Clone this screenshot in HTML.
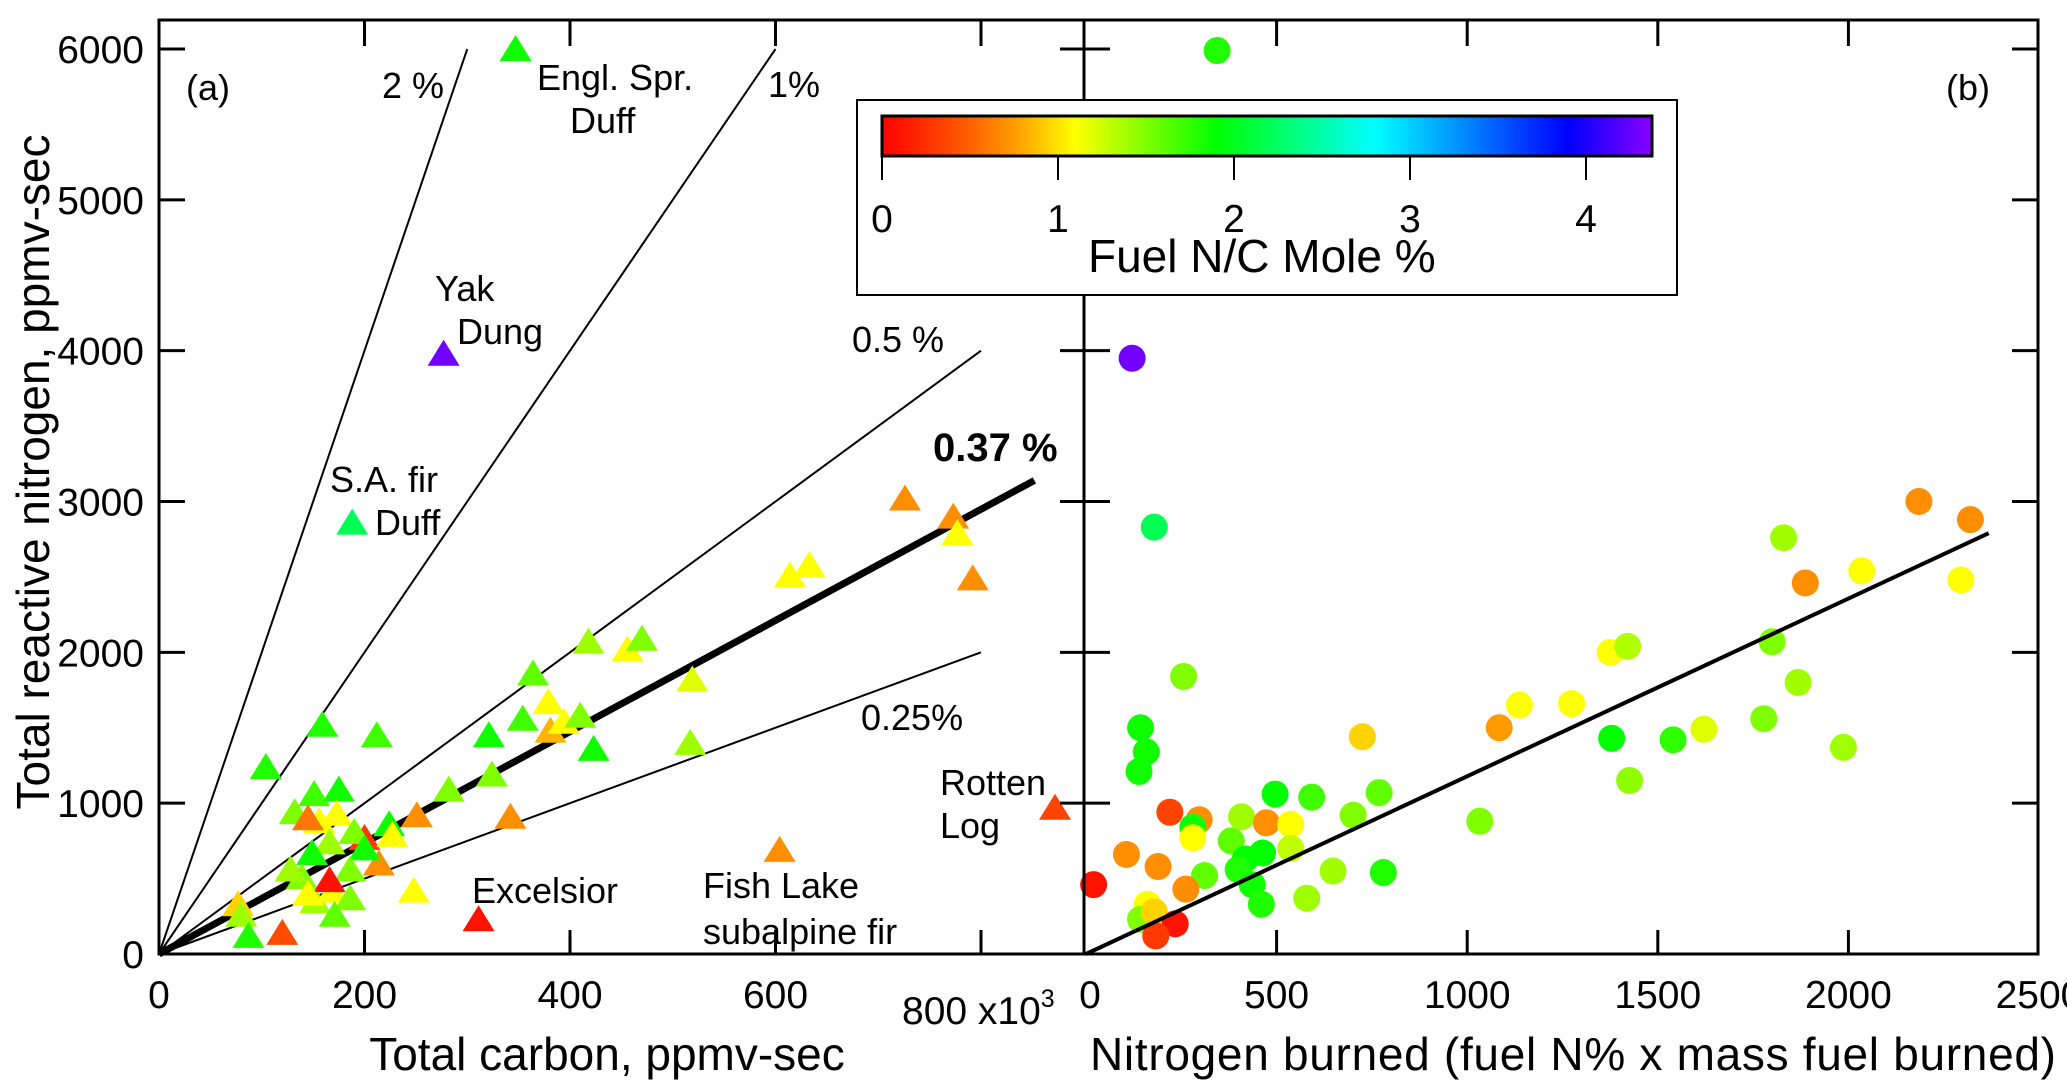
<!DOCTYPE html>
<html><head><meta charset="utf-8"><style>
html,body{margin:0;padding:0;background:#fff;}
svg{display:block;font-family:"Liberation Sans",sans-serif;}
</style></head><body>
<svg id="c" width="2067" height="1086" viewBox="0 0 2067 1086" xmlns="http://www.w3.org/2000/svg">
<defs>
<linearGradient id="cb" x1="0" x2="1" y1="0" y2="0">
<stop offset="0" stop-color="#ff0000"/>
<stop offset="0.114" stop-color="#ff6000"/>
<stop offset="0.18" stop-color="#ffa500"/>
<stop offset="0.25" stop-color="#ffff00"/>
<stop offset="0.434" stop-color="#00ff00"/>
<stop offset="0.64" stop-color="#00ffff"/>
<stop offset="0.89" stop-color="#0000ff"/>
<stop offset="1" stop-color="#8800ff"/>
</linearGradient>
</defs>
</svg>
<script>
// Panel (a): total carbon (x10^3 ppmv-sec), total reactive N (ppmv-sec), fuel N/C mole %
const aCarbon=[347,277,188,726,773,777,792,614,633,418,456,470,519,517,364,354,321,379,381,394,410,423,324,282,342,251,212,159,104,132,151,175,156,173,145,200,224,190,227,214,200,186,166,149,139,128,152,169,166,186,171,145,77,80,87,120,248,311,604,872];
const aNitrogen=[6000,3980,2860,3020,2900,2790,2490,2510,2580,2070,2020,2090,1820,1400,1860,1560,1450,1670,1480,1540,1580,1360,1190,1090,910,920,1450,1520,1240,940,1060,1090,880,930,900,770,860,810,790,600,700,560,740,670,510,560,350,420,490,370,260,400,330,260,120,140,420,230,690,970];
const aNC=[1.85,4.3,2.2,0.7,0.7,1.1,0.7,1.1,1.1,1.4,1.1,1.5,1.2,1.4,1.6,1.7,1.85,1.1,0.85,1.1,1.5,1.85,1.5,1.5,0.7,0.7,1.7,1.8,1.8,1.5,1.7,1.85,1.1,1.1,0.6,0.3,1.85,1.5,1.1,0.7,1.85,1.5,1.4,1.85,1.5,1.4,1.4,1.1,0.1,1.5,1.6,1.1,0.95,1.4,1.8,0.4,1.1,0.1,0.7,0.35];
// Panel (b): nitrogen burned, total reactive N, fuel N/C mole %
const bBurned=[344,121,179,256,143,158,139,220,297,280,280,106,189,20,311,262,161,143,179,234,183,381,408,473,537,496,592,463,418,399,436,460,537,579,648,701,725,769,780,1033,1084,1137,1274,1379,1375,1421,1426,1540,1621,1778,1800,1830,1868,1887,1987,2035,2185,2295,2320];
const bNitrogen=[5990,3950,2830,1840,1500,1340,1210,940,890,840,770,660,580,460,520,430,330,230,280,200,120,750,910,870,860,1060,1040,670,630,560,460,330,700,370,550,920,1440,1070,540,880,1500,1650,1660,1430,2000,2040,1150,1420,1490,1560,2070,2760,1800,2460,1370,2540,3000,2480,2880];
const bNC=[1.8,4.3,2.2,1.5,1.85,1.85,1.85,0.35,0.7,1.85,1.1,0.7,0.7,0.1,1.6,0.7,1.1,1.5,0.95,0.1,0.3,1.6,1.4,0.7,1.1,1.9,1.7,1.9,1.9,1.8,1.85,1.8,1.3,1.4,1.4,1.5,0.95,1.6,1.8,1.5,0.75,1.1,1.1,1.9,1.1,1.35,1.45,1.75,1.2,1.5,1.5,1.4,1.4,0.7,1.4,1.1,0.7,1.1,0.7];
const aRefLines=[[2,300,6000],[1,600,6000],[0.5,800,4000],[0.25,800,2000]];
const fitA=[852,3140];
const fitB=[2368,2790];
const yTicks=[0,1000,2000,3000,4000,5000,6000];
const xTicksA=[0,200,400,600];
const xTicksB=[0,500,1000,1500,2000,2500];
const cbTicks=[0,1,2,3,4];

const svg=document.getElementById('c');
const NS='http://www.w3.org/2000/svg';
const xa=v=>159+v*1.0275, ya=v=>954-v*0.15083;
const xb=v=>1086+v*0.3812, yb=ya;
const cbx=v=>882+v*176;
function mk(tag,attrs,text){const e=document.createElementNS(NS,tag);for(const k in attrs)e.setAttribute(k,attrs[k]);if(text!==undefined)e.textContent=text;svg.appendChild(e);return e;}
const stops=[[0,[255,0,0]],[0.5,[255,96,0]],[0.8,[255,165,0]],[1.1,[255,255,0]],[1.9,[0,255,0]],[2.8,[0,255,255]],[3.9,[0,0,255]],[4.38,[136,0,255]]];
function col(v){for(let i=0;i<stops.length-1;i++){const[a,ca]=stops[i],[b,cb]=stops[i+1];if(v<=b){const t=Math.max(0,(v-a)/(b-a));return 'rgb('+ca.map((c,j)=>Math.round(c+(cb[j]-c)*t)).join(',')+')';}}return 'rgb(136,0,255)';}

aRefLines.forEach(r=>{const l=mk('line',{x1:xa(0),y1:ya(0),x2:xa(r[1]),y2:ya(r[2]),stroke:'#000','stroke-width':2});

});
let fa=mk('line',{x1:xa(0),y1:ya(0),x2:xa(fitA[0]),y2:ya(fitA[1]),stroke:'#000','stroke-width':7});



aCarbon.forEach((c,i)=>{const x=xa(c),y=ya(aNitrogen[i]);
const p=mk('polygon',{points:`${x},${y-14} ${x-16},${y+12} ${x+16},${y+12}`,fill:col(aNC[i])});

});

bBurned.forEach((v,i)=>{const c=mk('circle',{cx:xb(v),cy:yb(bNitrogen[i]),r:13.5,fill:col(bNC[i])});

});
let fb=mk('line',{x1:xb(0),y1:yb(0),x2:xb(fitB[0]),y2:yb(fitB[1]),stroke:'#000','stroke-width':4});



let fr=mk('rect',{x:159,y:20,width:1879,height:934,fill:'none',stroke:'#000','stroke-width':3});


let dv=mk('line',{x1:1084,y1:20,x2:1084,y2:954,stroke:'#000','stroke-width':3});



yTicks.forEach(v=>{const y=ya(v);
mk('line',{x1:159,y1:y,x2:185,y2:y,stroke:'#000','stroke-width':3});
mk('line',{x1:1060,y1:y,x2:1110,y2:y,stroke:'#000','stroke-width':3});
mk('line',{x1:2012,y1:y,x2:2038,y2:y,stroke:'#000','stroke-width':3});
const t=mk('text',{x:144,y:y+14,'text-anchor':'end','font-size':39},String(v));

});
xTicksA.concat([800]).forEach(v=>{const x=xa(v);
mk('line',{x1:x,y1:20,x2:x,y2:46,stroke:'#000','stroke-width':3});
mk('line',{x1:x,y1:954,x2:x,y2:930,stroke:'#000','stroke-width':3});});
xTicksA.forEach(v=>{const t=mk('text',{x:xa(v),y:1008,'text-anchor':'middle','font-size':39},String(v));

});
xTicksB.forEach(v=>{const x=xb(v);
if(v>0&&v<2500){mk('line',{x1:x,y1:20,x2:x,y2:46,stroke:'#000','stroke-width':3});
mk('line',{x1:x,y1:954,x2:x,y2:930,stroke:'#000','stroke-width':3});}
const t=mk('text',{x:v===0?x+4:x,y:1008,'text-anchor':'middle','font-size':39},String(v));

});

let lb=mk('rect',{x:857,y:100,width:820,height:195,fill:'#fff',stroke:'#000','stroke-width':2});


let cbr=mk('rect',{x:882,y:116,width:770,height:40,fill:'url(#cb)',stroke:'#000','stroke-width':3});


cbTicks.forEach(v=>{mk('line',{x1:cbx(v),y1:156,x2:cbx(v),y2:180,stroke:'#000','stroke-width':2});
const t=mk('text',{x:cbx(v),y:232,'text-anchor':'middle','font-size':39},String(v));

});
</script>
<svg style="position:absolute;left:0;top:0" width="2067" height="1086" font-family="Liberation Sans, sans-serif">
<text x="1088" y="272" font-size="46">Fuel N/C Mole %</text>
<text transform="translate(49,472) rotate(-90)" text-anchor="middle" font-size="46">Total reactive nitrogen, ppmv-sec</text>
<text x="607" y="1070" text-anchor="middle" font-size="46">Total carbon, ppmv-sec</text>
<text x="1090" y="1070" font-size="46" textLength="966">Nitrogen burned (fuel N% x mass fuel burned)</text>
<text x="902" y="1024" font-size="39">800 x10<tspan dy="-17" font-size="25">3</tspan></text>
<text x="186" y="100" font-size="36">(a)</text>
<text x="1946" y="100" font-size="36">(b)</text>
<g font-size="36">
<text x="382" y="98">2 %</text>
<text x="768" y="97">1%</text>
<text x="537" y="90">Engl. Spr.</text>
<text x="570" y="133">Duff</text>
<text x="435" y="301">Yak</text>
<text x="457" y="344">Dung</text>
<text x="330" y="492">S.A. fir</text>
<text x="375" y="535">Duff</text>
<text x="852" y="352">0.5 %</text>
<text x="933" y="461" font-weight="bold" font-size="40">0.37 %</text>
<text x="861" y="730">0.25%</text>
<text x="940" y="795">Rotten</text>
<text x="940" y="838">Log</text>
<text x="472" y="903">Excelsior</text>
<text x="703" y="898">Fish Lake</text>
<text x="703" y="944">subalpine fir</text>
</g>
</svg>
</body></html>
